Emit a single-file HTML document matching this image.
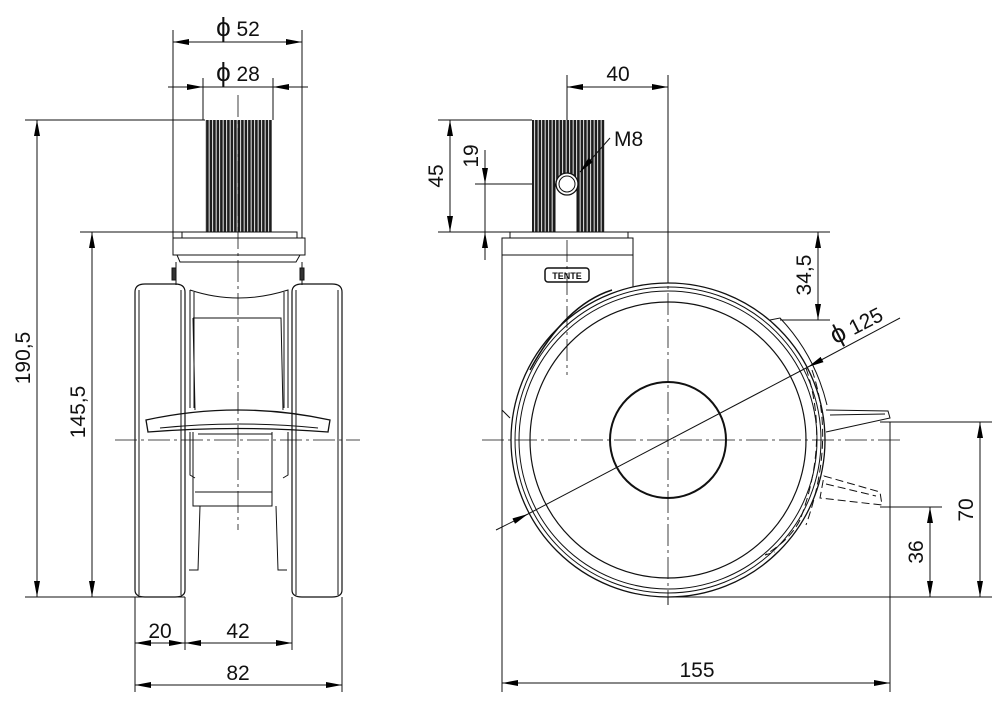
<!DOCTYPE html>
<html><head><meta charset="utf-8"><style>
html,body{margin:0;padding:0;background:#fff}
svg{display:block}
text{font-family:"Liberation Sans",sans-serif;font-size:21px;fill:#111}
</style></head><body>
<svg width="1000" height="707" viewBox="0 0 1000 707" xmlns="http://www.w3.org/2000/svg">
<defs>
<marker id="a" viewBox="0 0 16 6" refX="16" refY="3" markerWidth="16" markerHeight="6" markerUnits="userSpaceOnUse" orient="auto-start-reverse"><path d="M0,0 L16,3 L0,6z" fill="#000"/></marker>
<pattern id="rib" width="3.5" height="10" patternUnits="userSpaceOnUse"><rect width="3.5" height="10" fill="#1e1e1e"/><rect x="2.2" width="0.9" height="10" fill="#fff"/></pattern>
</defs>
<g stroke="#111" stroke-width="1" fill="none">
<line x1="173" y1="30" x2="173" y2="238"/><line x1="302" y1="30" x2="302" y2="238"/>
<line x1="203" y1="78" x2="203" y2="120"/><line x1="273" y1="78" x2="273" y2="120"/>
<line x1="25" y1="120" x2="205" y2="120"/>
<line x1="80" y1="232" x2="182" y2="232"/>
<line x1="25" y1="597" x2="185" y2="597"/>
<line x1="135" y1="597" x2="135" y2="692"/><line x1="342" y1="597" x2="342" y2="692"/>
<line x1="185" y1="597" x2="185" y2="650"/><line x1="292" y1="597" x2="292" y2="650"/>
<line x1="173" y1="42" x2="302" y2="42" marker-start="url(#a)" marker-end="url(#a)"/>
<line x1="168" y1="87" x2="203" y2="87" marker-end="url(#a)"/><line x1="308" y1="87" x2="273" y2="87" marker-end="url(#a)"/>
<line x1="203" y1="87" x2="273" y2="87"/>
<line x1="37" y1="120" x2="37" y2="597" marker-start="url(#a)" marker-end="url(#a)"/>
<line x1="92" y1="232" x2="92" y2="597" marker-start="url(#a)" marker-end="url(#a)"/>
<line x1="135" y1="643" x2="185" y2="643" marker-start="url(#a)" marker-end="url(#a)"/>
<line x1="185" y1="643" x2="292" y2="643" marker-start="url(#a)" marker-end="url(#a)"/>
<line x1="135" y1="685" x2="342" y2="685" marker-start="url(#a)" marker-end="url(#a)"/>
<rect x="205" y="120" width="67" height="112" fill="url(#rib)" stroke="none"/>
<rect x="182" y="232" width="115" height="6"/>
<rect x="173" y="238" width="132" height="17"/>
<path d="M177,255 L180,262 L296,262 L300,255"/>
<path d="M176,262 V285 M302,262 V285"/>
<rect x="172" y="268" width="4" height="12" fill="#333"/><rect x="300" y="268" width="4" height="12" fill="#333"/>
<path d="M135,292 Q135,284 145,284 L175,284 Q185,284 185,292 V590 Q185,597 175,597 L145,597 Q135,597 135,590Z" stroke-width="1.2"/>
<path d="M139,290 V595 M181,290 V595"/>
<path d="M292,292 Q292,284 302,284 L332,284 Q342,284 342,292 V590 Q342,597 332,597 L302,597 Q292,597 292,590Z" stroke-width="1.2"/>
<path d="M296,290 V595 M338,290 V595"/>
<path d="M190,290 Q238,306 288,290 V408 M190,290 V408"/>
<path d="M194,292 V408 M284,292 V408"/>
<path d="M193,318 L281,318 L283,410 M193,318 L195,410"/>
<path d="M146,420 Q238,400 330,420 L328,432 Q238,425 148,432Z" stroke-width="1.3"/>
<path d="M160,428 Q238,420 318,428"/>
<path d="M198,434 L272,434"/>
<path d="M190,432 V475 L195,478 M288,432 V475 L283,478"/>
<path d="M193,432 V506 L272,506 L272,432 M195,492 L272,492"/>
<path d="M200,506 L198,570 L189,570 M276,506 L278,570 L287,570"/>
<path d="M238,95 V530 M115,440 H360" stroke-dasharray="22,4,3,4" stroke-width="0.8"/>

<line x1="567" y1="75" x2="567" y2="120"/><line x1="668" y1="75" x2="668" y2="605"/>
<line x1="567" y1="87" x2="668" y2="87" marker-start="url(#a)" marker-end="url(#a)"/>
<line x1="438" y1="120" x2="532" y2="120"/>
<line x1="438" y1="232" x2="830" y2="232"/>
<line x1="450" y1="120" x2="450" y2="232" marker-start="url(#a)" marker-end="url(#a)"/>
<line x1="475" y1="184" x2="568" y2="184"/>
<line x1="485" y1="150" x2="485" y2="184" marker-end="url(#a)"/>
<line x1="485" y1="260" x2="485" y2="232" marker-end="url(#a)"/>
<line x1="485" y1="184" x2="485" y2="232"/>
<line x1="818" y1="232" x2="818" y2="320" marker-start="url(#a)" marker-end="url(#a)"/>
<line x1="780" y1="320" x2="830" y2="320"/>
<rect x="532" y="120" width="73" height="112" fill="url(#rib)" stroke="none"/>
<rect x="555" y="184" width="22" height="48" fill="#fff" stroke="#111"/>
<circle cx="567" cy="184" r="11" fill="#fff" stroke-width="1.3"/><circle cx="567" cy="184" r="8"/>
<line x1="580" y1="172" x2="610" y2="138" marker-start="url(#a)"/>
<rect x="510" y="232" width="118" height="6"/>
<rect x="502" y="238" width="131" height="17"/>
<path d="M502,255 V410 L510,418 M633,255 V290"/>
<rect x="545" y="268" width="44" height="14" rx="3" stroke-width="1.5"/>
<text x="567" y="279" text-anchor="middle" style="font-size:9px;font-weight:bold" stroke="none">TENTE</text>
<circle cx="668" cy="440" r="157" fill="#fff" stroke-width="1.3"/>
<path d="M530,370 Q565,305 612,290" stroke-width="1.5"/>
<circle cx="668" cy="440" r="153"/><circle cx="668" cy="440" r="149"/>
<circle cx="668" cy="440" r="138" stroke-width="1.2"/>
<circle cx="668" cy="440" r="58" stroke-width="2"/>
<path d="M806,368 Q830,440 800,520" stroke-dasharray="8,4"/>
<path d="M812,370 Q836,440 806,525" stroke-dasharray="8,4"/>
<path d="M800,520 Q790,540 765,555 L775,552" stroke-dasharray="8,4"/>
<path d="M770,320 L780,318 Q815,355 827,405"/>
<path d="M826,410 L888,411 L890,418 L826,432"/>
<path d="M830,415 L885,414"/>
<path d="M824,476 L880,492 L882,505 L820,498Z" stroke-dasharray="8,4"/>
<path d="M826,484 L876,496" stroke-dasharray="8,4"/>
<line x1="900" y1="318" x2="808" y2="367" marker-end="url(#a)"/>
<line x1="808" y1="367" x2="528" y2="514"/>
<line x1="496" y1="530" x2="528" y2="514" marker-end="url(#a)"/>
<line x1="880" y1="422" x2="992" y2="422"/>
<line x1="880" y1="507" x2="942" y2="507"/>
<line x1="668" y1="597" x2="992" y2="597"/>
<line x1="890" y1="422" x2="890" y2="692"/>
<line x1="502" y1="410" x2="502" y2="692"/>
<line x1="980" y1="422" x2="980" y2="597" marker-start="url(#a)" marker-end="url(#a)"/>
<line x1="930" y1="507" x2="930" y2="597" marker-start="url(#a)" marker-end="url(#a)"/>
<line x1="502" y1="683" x2="890" y2="683" marker-start="url(#a)" marker-end="url(#a)"/>
<path d="M567,240 V375 M482,440 H900 M668,95 V600" stroke-dasharray="22,4,3,4" stroke-width="0.8"/>
</g>
<g stroke="none">
<text x="238" y="36" text-anchor="middle"><tspan style="font-size:26px">ϕ</tspan> 52</text>
<text x="238" y="81" text-anchor="middle"><tspan style="font-size:26px">ϕ</tspan> 28</text>
<text transform="translate(30,358) rotate(-90)" text-anchor="middle">190,5</text>
<text transform="translate(85,412) rotate(-90)" text-anchor="middle">145,5</text>
<text x="160" y="638" text-anchor="middle">20</text>
<text x="238" y="638" text-anchor="middle">42</text>
<text x="238" y="680" text-anchor="middle">82</text>
<text x="618" y="81" text-anchor="middle">40</text>
<text x="614" y="146">M8</text>
<text transform="translate(443,176) rotate(-90)" text-anchor="middle">45</text>
<text transform="translate(478,156) rotate(-90)" text-anchor="middle">19</text>
<text transform="translate(811,275) rotate(-90)" text-anchor="middle">34,5</text>
<text transform="translate(860,332) rotate(-27)" text-anchor="middle"><tspan style="font-size:26px">ϕ</tspan> 125</text>
<text transform="translate(973,510) rotate(-90)" text-anchor="middle">70</text>
<text transform="translate(923,552) rotate(-90)" text-anchor="middle">36</text>
<text x="697" y="677" text-anchor="middle">155</text>
</g>
</svg>
</body></html>
